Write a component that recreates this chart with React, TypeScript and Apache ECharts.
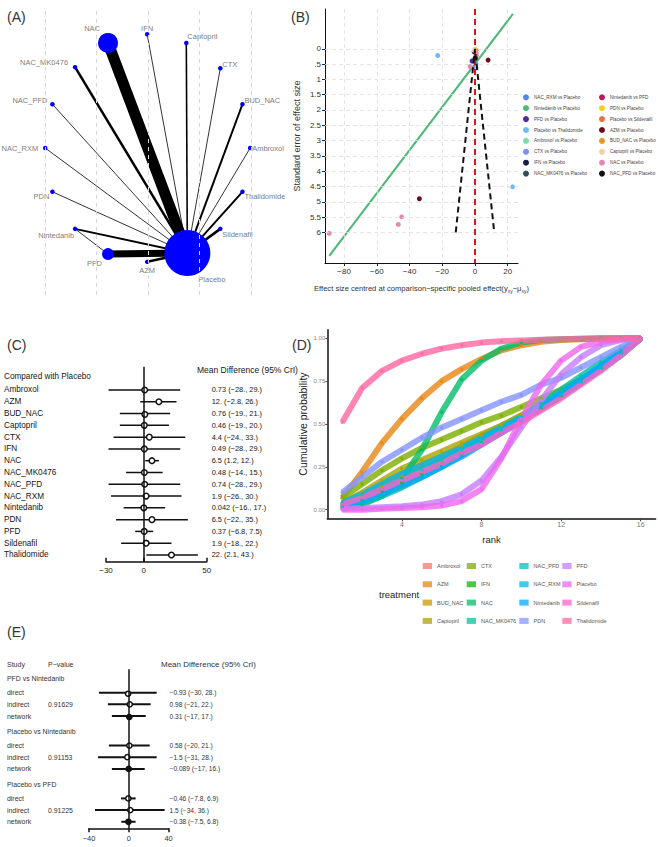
import React, { useEffect, useRef } from "react";
import * as echarts from "echarts";

const NARROW = "'Liberation Sans Narrow','Arial Narrow','Liberation Sans',Arial,sans-serif";
const SANS = "'Liberation Sans',Arial,sans-serif";

// ---------- (A) network of treatment comparisons ----------
const networkNodes = ["NAC", "IFN", "Captopril", "CTX", "BUD_NAC", "Ambroxol", "Thalidomide", "Sildenafil", "Placebo", "AZM", "PFD", "Nintedanib", "PDN", "NAC_RXM", "NAC_PFD", "NAC_MK0476"];
const networkX = [-0.78, -0.02, 0.74, 1.4, 1.83, 1.98, 1.83, 1.4, 0.76, -0.02, -0.78, -1.42, -1.86, -2.0, -1.86, -1.42];
const networkY = [2.04, 2.21, 2.04, 1.55, 0.85, 0, -0.85, -1.57, -2.04, -2.21, -2.06, -1.57, -0.85, 0, 0.85, 1.57];
const networkNodeSize = [20, 4.5, 4.5, 4.5, 4.5, 4.5, 4.5, 4.5, 46, 4.5, 12, 4.5, 4.5, 4.5, 4.5, 4.5];
const edgeFrom = ["NAC", "IFN", "Captopril", "CTX", "BUD_NAC", "Ambroxol", "Thalidomide", "Sildenafil", "AZM", "PFD", "Nintedanib", "PDN", "NAC_RXM", "NAC_PFD", "NAC_MK0476", "Nintedanib"];
const edgeTo = ["Placebo", "Placebo", "Placebo", "Placebo", "Placebo", "Placebo", "Placebo", "Placebo", "Placebo", "Placebo", "Placebo", "Placebo", "Placebo", "Placebo", "Placebo", "PFD"];
const edgeWidth = [11, 0.8, 1.6, 0.8, 2, 0.8, 2, 2.5, 2.5, 7, 2, 0.8, 0.8, 0.8, 2.5, 0.8];
const networkGuides = [-2, -1, 0, 1, 2];

// label anchor offsets from each node centre: [dx, dy, align]
const nodeLabelPlacement: Record<string, [number, number, string]> = {
  NAC: [-8, -14, "right"], IFN: [0, -6, "center"], Captopril: [1, -6, "left"], CTX: [2, -4, "left"],
  BUD_NAC: [2, -4, "left"], Ambroxol: [2, 0, "left"], Thalidomide: [2, 5, "left"], Sildenafil: [2, 6, "left"],
  Placebo: [11, 26, "left"], AZM: [0, 9, "center"], PFD: [-6, 9, "right"], Nintedanib: [-1, 7, "right"],
  PDN: [-3, 5, "right"], NAC_RXM: [-7, 0, "right"], NAC_PFD: [-5, -4, "right"], NAC_MK0476: [-7, -5, "right"],
};

// ---------- (B) comparison-adjusted funnel plot ----------
const funnelComparisons = ["NAC_RXM vs Placebo", "Nintedanib vs Placebo", "PFD vs Placebo", "Placebo vs Thalidomide", "Ambroxol vs Placebo", "CTX vs Placebo", "IFN vs Placebo", "NAC_MK0476 vs Placebo", "Nintedanib vs PFD", "PDN vs Placebo", "Placebo vs Sildenafil", "AZM vs Placebo", "BUD_NAC vs Placebo", "Captopril vs Placebo", "NAC vs Placebo", "NAC_PFD vs Placebo"];
const funnelColors = ["#4A86EE", "#4DB878", "#4B2C9E", "#6CBDF2", "#7CDDB0", "#7F8EF2", "#13214A", "#2F4F57", "#C0185A", "#F2D022", "#E8714A", "#6A0E1E", "#E8982A", "#F6CFA6", "#E589B4", "#111111"];
const funnelEffect = [[0.5], [-0.4], [-1.8], [-22.8, 23.0], [0.4], [0.6], [-0.5], [0.2], [0.6], [0.1], [0.8], [-34.0, 8.0], [0.3], [-0.6], [-89.1, -46.9, -44.8, -3.0, 0.9], [0.1]];
const funnelSE = [[0.5], [0.4], [0.4], [0.22, 4.51], [0.18], [0.62], [0.1], [0.32], [0.05], [0.02], [0.22], [4.9, 0.37], [0.08], [0.05], [6.03, 5.74, 5.49, 0.58, 0.15], [0.3]];
const eggerX = [-89.1, 23.2];
const eggerY = [6.77, -1.14];
const funnelLimitX = [-11.76, 0, 11.76];
const funnelLimitY = [6, 0, 6];
const funnelXTicks = [-80, -60, -40, -20, 0, 20];
const funnelYTicks = [0, 0.5, 1, 1.5, 2, 2.5, 3, 3.5, 4, 4.5, 5, 5.5, 6];

// ---------- (C) forest plot vs placebo ----------
const forestLabels = ["Ambroxol", "AZM", "BUD_NAC", "Captopril", "CTX", "IFN", "NAC", "NAC_MK0476", "NAC_PFD", "NAC_RXM", "Nintedanib", "PDN", "PFD", "Sildenafil", "Thalidomide"];
const forestMean = [0.73, 12, 0.76, 0.46, 4.4, 0.49, 6.5, 0.48, 0.74, 1.9, 0.042, 6.5, 0.37, 1.9, 22];
const forestLow = [-28, -2.8, -19, -19, -24, -28, 1.2, -14, -28, -26, -16, -22, -6.8, -18, 2.1];
const forestHigh = [29, 26, 21, 20, 33, 29, 12, 15, 29, 30, 17, 35, 7.5, 22, 43];
const forestTicks = [-30, 0, 50];

// ---------- (D) cumulative ranking curves ----------
const treatments = ["Ambroxol", "AZM", "BUD_NAC", "Captopril", "CTX", "IFN", "NAC", "NAC_MK0476", "NAC_PFD", "NAC_RXM", "Nintedanib", "PDN", "PFD", "Placebo", "Sildenafil", "Thalidomide"];
const treatmentColors = ["#F8766D", "#E68613", "#CD9600", "#ABA300", "#7CAE00", "#0CB702", "#00BE67", "#00C19A", "#00BFC4", "#00B8E7", "#00A9FF", "#8494FF", "#C77CFF", "#ED68ED", "#FF61CC", "#FF68A1"];
const ranks = [1, 2, 3, 4, 5, 6, 7, 8, 9, 10, 11, 12, 13, 14, 15, 16];
const cumAmbroxol = [0.03, 0.07, 0.12, 0.17, 0.22, 0.28, 0.34, 0.4, 0.46, 0.53, 0.6, 0.67, 0.75, 0.83, 0.91, 1];
const cumAZM = [0.07, 0.22, 0.39, 0.53, 0.65, 0.75, 0.82, 0.88, 0.93, 0.96, 0.98, 0.99, 0.995, 0.998, 0.999, 1];
const cumBUDNAC = [0.03, 0.08, 0.14, 0.2, 0.26, 0.31, 0.37, 0.43, 0.49, 0.55, 0.62, 0.68, 0.75, 0.83, 0.91, 1];
const cumCaptopril = [0.04, 0.1, 0.17, 0.24, 0.29, 0.34, 0.39, 0.44, 0.49, 0.55, 0.61, 0.67, 0.74, 0.82, 0.9, 1];
const cumCTX = [0.07, 0.15, 0.23, 0.3, 0.36, 0.41, 0.46, 0.51, 0.55, 0.6, 0.65, 0.7, 0.76, 0.83, 0.91, 1];
const cumIFN = [0.02, 0.06, 0.11, 0.16, 0.21, 0.27, 0.33, 0.39, 0.45, 0.52, 0.59, 0.66, 0.74, 0.82, 0.91, 1];
const cumNAC = [0.01, 0.03, 0.08, 0.18, 0.35, 0.57, 0.76, 0.87, 0.94, 0.975, 0.99, 0.995, 0.998, 1, 1, 1];
const cumNACMK0476 = [0.01, 0.04, 0.08, 0.13, 0.19, 0.25, 0.32, 0.39, 0.46, 0.54, 0.62, 0.7, 0.78, 0.86, 0.93, 1];
const cumNACPFD = [0.03, 0.07, 0.12, 0.17, 0.23, 0.29, 0.35, 0.41, 0.47, 0.54, 0.61, 0.68, 0.75, 0.83, 0.91, 1];
const cumNACRXM = [0.04, 0.09, 0.15, 0.21, 0.26, 0.31, 0.36, 0.42, 0.48, 0.54, 0.6, 0.67, 0.74, 0.82, 0.9, 1];
const cumNintedanib = [0.02, 0.05, 0.09, 0.14, 0.19, 0.25, 0.31, 0.38, 0.45, 0.52, 0.6, 0.68, 0.76, 0.84, 0.92, 1];
const cumPDN = [0.1, 0.19, 0.28, 0.35, 0.42, 0.48, 0.53, 0.58, 0.63, 0.67, 0.73, 0.77, 0.83, 0.89, 0.95, 1];
const cumPFD = [0.005, 0.01, 0.015, 0.02, 0.03, 0.05, 0.09, 0.17, 0.31, 0.48, 0.64, 0.79, 0.89, 0.96, 0.99, 1];
const cumPlacebo = [0, 0, 0.005, 0.01, 0.015, 0.025, 0.05, 0.12, 0.3, 0.53, 0.73, 0.87, 0.95, 0.98, 0.995, 1];
const cumSildenafil = [0.03, 0.07, 0.12, 0.17, 0.22, 0.27, 0.33, 0.38, 0.45, 0.51, 0.58, 0.65, 0.73, 0.81, 0.9, 1];
const cumThalidomide = [0.51, 0.71, 0.81, 0.87, 0.91, 0.94, 0.96, 0.975, 0.983, 0.988, 0.992, 0.995, 0.997, 0.998, 0.999, 1];
const cumulative = [cumAmbroxol, cumAZM, cumBUDNAC, cumCaptopril, cumCTX, cumIFN, cumNAC, cumNACMK0476, cumNACPFD, cumNACRXM, cumNintedanib, cumPDN, cumPFD, cumPlacebo, cumSildenafil, cumThalidomide];
const rankTicks = [4, 8, 12, 16];
const probTicks = [0, 0.25, 0.5, 0.75, 1];

// ---------- (E) node-splitting ----------
const splitGroups = ["PFD vs Nintedanib", "Placebo vs Nintedanib", "Placebo vs PFD"];
const splitKinds = ["direct", "indirect", "network"];
const splitMean = [-0.93, 0.98, 0.31, 0.58, -1.5, -0.089, -0.46, 1.5, -0.38];
const splitLow = [-30, -21, -17, -20, -31, -17, -7.8, -34, -7.5];
const splitHigh = [28, 22, 17, 21, 28, 16, 6.9, 36, 6.8];
const splitPValues = ["0.91629", "0.91153", "0.91225"];
const splitTicks = [-40, 0, 40];

const minus = (v: number | string) => String(v).replace("-", "\u2212");
const ciNum = (v: number, dotNeg: boolean) => {
  let s = String(v);
  if (Number.isInteger(v) && Math.abs(v) >= 10 && (v > 0 || dotNeg)) s += ".";
  return minus(s);
};

function text(t: string, x: number, y: number, size: number, family: string, color: string, align = "left") {
  return { type: "text", x, y, silent: true, style: { text: t, fontSize: size, fontFamily: family, fill: color, align, verticalAlign: "middle" } };
}

function buildOption() {
  // (A)
  const nodeIndex = (n: string) => networkNodes.indexOf(n);
  const edges = edgeFrom.map((f, i) => ({
    coords: [[networkX[nodeIndex(f)], networkY[nodeIndex(f)]], [networkX[nodeIndex(edgeTo[i])], networkY[nodeIndex(edgeTo[i])]]],
    lineStyle: { width: edgeWidth[i] },
  }));
  const nodes = networkNodes.map((n, i) => ({ name: n, value: [networkX[i], networkY[i]], symbolSize: networkNodeSize[i] }));
  // node names drawn by a marker-less series anchored on the same coordinates
  const nodeNames = networkNodes.map((n, i) => {
    const [dx, dy, align] = nodeLabelPlacement[n];
    return {
      name: n,
      value: [networkX[i], networkY[i]],
      label: { show: true, position: [dx, dy], align, verticalAlign: "middle", formatter: n, fontSize: 7.5, fontFamily: SANS, color: "#555" },
    };
  });

  // (C)
  const forestIdx = forestLabels.map((_, i) => i);
  const forestText = forestLabels.map((_, i) => `${ciNum(forestMean[i], true)} (${ciNum(forestLow[i], true)}, ${ciNum(forestHigh[i], true)})`);

  // (E)
  const E_STEP = 4.53, E_FIRST = 1.23;
  const eHeaderY = splitGroups.map((_, g) => g * E_STEP);
  const eRowY = splitMean.map((_, i) => Math.floor(i / 3) * E_STEP + E_FIRST + (i % 3));
  const eLeftValues = [...eHeaderY, ...eRowY];
  const eLeftText = [...splitGroups, ...splitMean.map((_, i) => splitKinds[i % 3])];
  const ePValueY = splitGroups.map((_, g) => eRowY[g * 3 + 1]);
  const eRightText = splitMean.map((_, i) => `${ciNum(splitMean[i], false)} (${ciNum(splitLow[i], false)}, ${ciNum(splitHigh[i], false)})`);
  const lookup = (vals: number[], txt: string[]) => (v: number) => {
    const k = vals.findIndex((x) => Math.abs(x - v) < 1e-6);
    return k >= 0 ? txt[k] : "";
  };

  const hidden = { show: false };
  const axisBlack = (w: number) => ({ show: true, onZero: false, lineStyle: { color: "#111", width: w } });

  const grids = [
    { left: 4, top: 10, width: 293.55, height: 285 },
    { left: 325, top: 9, width: 193, height: 254 },
    { left: 106, top: 366.7, width: 100.7, height: 195 },
    { left: 327.3, top: 329.75, width: 328.35, height: 188.55 },
    { left: 89, top: 669.3, width: 79.6, height: 159 },
  ].map((g) => ({ ...g, outerBoundsMode: "none", containLabel: false }));

  const xAxis: any[] = [
    { gridIndex: 0, type: "value", min: -2.8, max: 2.9, show: false, splitLine: hidden },
    {
      gridIndex: 1, type: "value", min: -91.7, max: 26.3, axisLine: axisBlack(1),
      axisTick: { show: true, length: 3, customValues: funnelXTicks, lineStyle: { color: "#222" } },
      axisLabel: { customValues: funnelXTicks, formatter: (v: number) => minus(v), fontSize: 8, fontFamily: NARROW, color: "#333", margin: 4 },
      splitLine: hidden,
      name: "{t|Effect size centred at comparison\u2212specific pooled effect(y}{s|xy}{t|\u2212\u03bc}{s|xy}{t|)}",
      nameLocation: "middle", nameGap: 20, nameMoveOverlap: false,
      nameTextStyle: { rich: { t: { fontSize: 7.6, fontFamily: NARROW, color: "#333" }, s: { fontSize: 5, fontFamily: NARROW, color: "#333", padding: [5, 0, 0, 0] } } },
    },
    {
      gridIndex: 2, type: "value", min: -30, max: 50, axisLine: axisBlack(1.5),
      axisTick: { show: true, inside: true, length: 4, customValues: forestTicks, lineStyle: { color: "#111", width: 1.5 } },
      axisLabel: { customValues: forestTicks, formatter: (v: number) => minus(v), fontSize: 8, fontFamily: NARROW, color: "#222", margin: 5 },
      splitLine: hidden,
    },
    {
      gridIndex: 3, type: "value", min: 0.25, max: 16.75, axisLine: axisBlack(1.5),
      axisTick: { show: true, length: 3, customValues: rankTicks, lineStyle: { color: "#444" } },
      axisLabel: { customValues: rankTicks, fontSize: 7, fontFamily: SANS, color: "#777", margin: 3 },
      splitLine: hidden,
      name: "rank", nameLocation: "middle", nameGap: 16, nameMoveOverlap: false,
      nameTextStyle: { fontSize: 9.5, fontFamily: SANS, color: "#222" },
    },
    {
      gridIndex: 4, type: "value", min: -40, max: 40, axisLine: axisBlack(1.5),
      axisTick: { show: true, length: 4, customValues: splitTicks, lineStyle: { color: "#111", width: 1.5 } },
      axisLabel: { customValues: splitTicks, formatter: (v: number) => minus(v), fontSize: 7.5, fontFamily: NARROW, color: "#333", margin: 6 },
      splitLine: hidden,
    },
  ];

  const forestY = { type: "value", inverse: true, min: -1.976, max: 14.57, axisLine: hidden, axisTick: hidden, splitLine: hidden };
  const splitY = { type: "value", inverse: true, min: -0.771, max: 12.85, axisLine: hidden, axisTick: hidden, splitLine: hidden };

  const yAxis: any[] = [
    { gridIndex: 0, type: "value", min: -2.854, max: 2.68, show: false, splitLine: hidden },
    {
      gridIndex: 1, position: "left", type: "value", inverse: true, min: -1.3, max: 7, axisLine: axisBlack(1),
      axisTick: { show: true, length: 3, customValues: funnelYTicks, lineStyle: { color: "#222" } },
      axisLabel: { customValues: funnelYTicks, formatter: (v: number) => (v === 0.5 ? ".5" : String(v)), fontSize: 8, fontFamily: NARROW, color: "#333", margin: 4 },
      splitLine: hidden,
      name: "Standard error of effect size", nameLocation: "middle", nameGap: 24, nameRotate: 90, nameMoveOverlap: false,
      nameTextStyle: { fontSize: 9, fontFamily: SANS, color: "#333" },
    },
    {
      gridIndex: 2, position: "left", ...forestY,
      axisLabel: { customValues: forestIdx, formatter: (v: number) => forestLabels[v] ?? "", align: "left", margin: 102, fontSize: 8.2, fontFamily: NARROW, color: "#151515" },
    },
    {
      gridIndex: 2, position: "right", ...forestY,
      axisLabel: { customValues: forestIdx, formatter: (v: number) => forestText[v] ?? "", align: "left", margin: 5, fontSize: 7.4, fontFamily: NARROW, color: "#151515" },
    },
    {
      gridIndex: 3, position: "left", type: "value", min: -0.05, max: 1.05, axisLine: axisBlack(1.5),
      axisTick: { show: true, length: 2, customValues: probTicks, lineStyle: { color: "#444" } },
      axisLabel: { customValues: probTicks, formatter: (v: number) => v.toFixed(2), fontSize: 6, fontFamily: SANS, color: "#888", margin: 2 },
      splitLine: hidden,
      name: "Cumulative probability", nameLocation: "middle", nameGap: 19, nameRotate: 90, nameMoveOverlap: false,
      nameTextStyle: { fontSize: 10.5, fontFamily: SANS, color: "#222" },
    },
    {
      gridIndex: 4, position: "left", offset: 0, ...splitY,
      axisLabel: { customValues: eLeftValues, formatter: lookup(eLeftValues, eLeftText), align: "left", margin: 82, fontSize: 6.9, fontFamily: NARROW, color: "#333" },
    },
    {
      gridIndex: 4, position: "left", offset: 0, ...splitY,
      axisLabel: { customValues: ePValueY, formatter: lookup(ePValueY, splitPValues), align: "left", margin: 41, fontSize: 6.9, fontFamily: NARROW, color: "#333" },
    },
    {
      gridIndex: 4, position: "right", offset: 0, ...splitY,
      axisLabel: { customValues: eRowY, formatter: lookup(eRowY, eRightText), align: "left", margin: 1, fontSize: 6.6, fontFamily: NARROW, color: "#333" },
    },
  ];

  const zeroLine = (w: number) => ({
    silent: true, symbol: "none", label: { show: false },
    lineStyle: { color: "#111", width: w, type: "solid" },
    data: [{ xAxis: 0 }],
  });

  const ciRender = (lw: number, r: number) => (params: any, api: any) => {
    const y = api.value(3);
    const a = api.coord([api.value(1), y]);
    const b = api.coord([api.value(2), y]);
    const m = api.coord([api.value(0), y]);
    const filled = api.value(4) === 1;
    return {
      type: "group",
      children: [
        { type: "line", shape: { x1: a[0], y1: a[1], x2: b[0], y2: b[1] }, style: { stroke: "#111", lineWidth: lw } },
        { type: "circle", shape: { cx: m[0], cy: m[1], r }, style: { fill: filled ? "#111" : "#fff", stroke: "#111", lineWidth: 1.5 } },
      ],
    };
  };

  const series: any[] = [
    // (A)
    {
      type: "lines", coordinateSystem: "cartesian2d", xAxisIndex: 0, yAxisIndex: 0, z: 2,
      lineStyle: { color: "#000", opacity: 1 }, data: edges, silent: true,
      markLine: {
        silent: true, symbol: "none", label: { show: false },
        lineStyle: { color: "#d6d6d6", width: 1, type: [4, 4] },
        data: networkGuides.map((v) => ({ xAxis: v })),
      },
    },
    {
      type: "scatter", xAxisIndex: 0, yAxisIndex: 0, z: 3, symbol: "circle",
      itemStyle: { color: "#0000FF", opacity: 1 }, data: nodes, silent: true, label: { show: false },
    },
    {
      type: "scatter", xAxisIndex: 0, yAxisIndex: 0, z: 4, symbol: "circle", symbolSize: 0,
      itemStyle: { color: "#555" }, data: nodeNames, silent: true,
    },
    // (B) reference grid
    {
      type: "scatter", xAxisIndex: 1, yAxisIndex: 1, data: [], z: 1, silent: true,
      markLine: {
        silent: true, symbol: "none", label: { show: false },
        lineStyle: { color: "#dedede", width: 0.8, type: [4, 3] },
        data: [...funnelXTicks.map((v) => ({ xAxis: v })), ...funnelYTicks.map((v) => ({ yAxis: v }))],
      },
    },
    {
      type: "line", xAxisIndex: 1, yAxisIndex: 1, z: 3, silent: true, showSymbol: false,
      data: eggerX.map((x, i) => [x, eggerY[i]]),
      lineStyle: { color: "#4DB878", width: 2 },
    },
    ...funnelComparisons.map((c, k) => ({
      name: c, type: "scatter", xAxisIndex: 1, yAxisIndex: 1, z: 4, symbolSize: 5,
      itemStyle: { color: funnelColors[k], opacity: 1 },
      data: funnelEffect[k].map((x, i) => [x, funnelSE[k][i]]),
    })),
    {
      type: "line", xAxisIndex: 1, yAxisIndex: 1, z: 5, silent: true, showSymbol: false,
      data: funnelLimitX.map((x, i) => [x, funnelLimitY[i]]),
      lineStyle: { color: "#111", width: 2, type: [6, 4] },
      markLine: {
        silent: true, symbol: "none", label: { show: false },
        lineStyle: { color: "#D7191C", width: 2, type: [6, 4] },
        data: [{ xAxis: 0 }],
      },
    },
    // (C)
    {
      type: "custom", xAxisIndex: 2, yAxisIndex: 2, z: 3,
      encode: { x: [0, 1, 2], y: 3 },
      renderItem: ciRender(1.5, 2.8),
      data: forestLabels.map((_, i) => [forestMean[i], forestLow[i], forestHigh[i], i, 0]),
      markLine: zeroLine(1.5),
    },
    // (D)
    ...treatments.map((t, k) => ({
      name: t, type: "line", xAxisIndex: 3, yAxisIndex: 4, z: 3,
      symbol: "circle", symbolSize: 3.5, showSymbol: true,
      itemStyle: { color: treatmentColors[k], opacity: 0.85 },
      lineStyle: { color: treatmentColors[k], width: 6, opacity: 0.8 },
      data: ranks.map((r, i) => [r, cumulative[k][i]]),
    })),
    // (E)
    {
      type: "custom", xAxisIndex: 4, yAxisIndex: 5, z: 3,
      encode: { x: [0, 1, 2], y: 3 },
      renderItem: ciRender(2, 2.6),
      data: splitMean.map((_, i) => [splitMean[i], splitLow[i], splitHigh[i], eRowY[i], i % 3 === 2 ? 1 : 0]),
      markLine: zeroLine(1.5),
    },
  ];

  const funnelLegend = (names: string[], left: number) => ({
    data: names, left, top: 94.3, orient: "vertical", padding: 0, itemGap: 4.9,
    itemWidth: 6, itemHeight: 6, icon: "circle", selectedMode: false,
    textStyle: { fontSize: 4.6, fontFamily: NARROW, color: "#444", lineHeight: 6 },
  });
  const rankLegend = (names: string[], left: number) => ({
    data: names, left, top: 562, orient: "vertical", padding: 0, itemGap: 10.3,
    itemWidth: 9.3, itemHeight: 6, icon: "rect", selectedMode: false,
    itemStyle: { opacity: 0.75 },
    textStyle: { fontSize: 5.5, fontFamily: SANS, color: "#555", lineHeight: 8 },
  });

  return {
    animation: false,
    backgroundColor: "#fff",
    grid: grids,
    xAxis,
    yAxis,
    series,
    legend: [
      funnelLegend(funnelComparisons.slice(0, 8), 523),
      funnelLegend(funnelComparisons.slice(8), 599),
      rankLegend(treatments.slice(0, 4), 422.7),
      rankLegend(treatments.slice(4, 8), 466.7),
      rankLegend(treatments.slice(8, 12), 519.3),
      rankLegend(treatments.slice(12), 562.3),
    ],
    graphic: [
      text("(A)", 7, 17, 14, SANS, "#333"),
      text("(B)", 291, 17, 14, SANS, "#333"),
      text("(C)", 7, 345, 14, SANS, "#333"),
      text("(D)", 292, 345, 14, SANS, "#333"),
      text("(E)", 7, 632, 14, SANS, "#333"),
      text("Mean Difference (95% CrI)", 197, 370, 8.5, NARROW, "#151515"),
      text("Compared with Placebo", 4, 376.7, 8.2, NARROW, "#151515"),
      text("treatment", 379, 594, 9.5, SANS, "#222"),
      text("Study", 7, 664, 7, NARROW, "#333"),
      text("P\u2212value", 48, 664, 7, NARROW, "#333"),
      text("Mean Difference (95% CrI)", 161, 664, 8, NARROW, "#333"),
    ],
  };
}

export default function App() {
  const ref = useRef<HTMLDivElement>(null);
  useEffect(() => {
    const chart = echarts.init(ref.current!, null, { renderer: "svg" });
    chart.setOption(buildOption() as any);
    return () => chart.dispose();
  }, []);
  return <div ref={ref} style={{ position: "fixed", left: 0, top: 0, width: 658, height: 847, background: "#fff" }} />;
}
